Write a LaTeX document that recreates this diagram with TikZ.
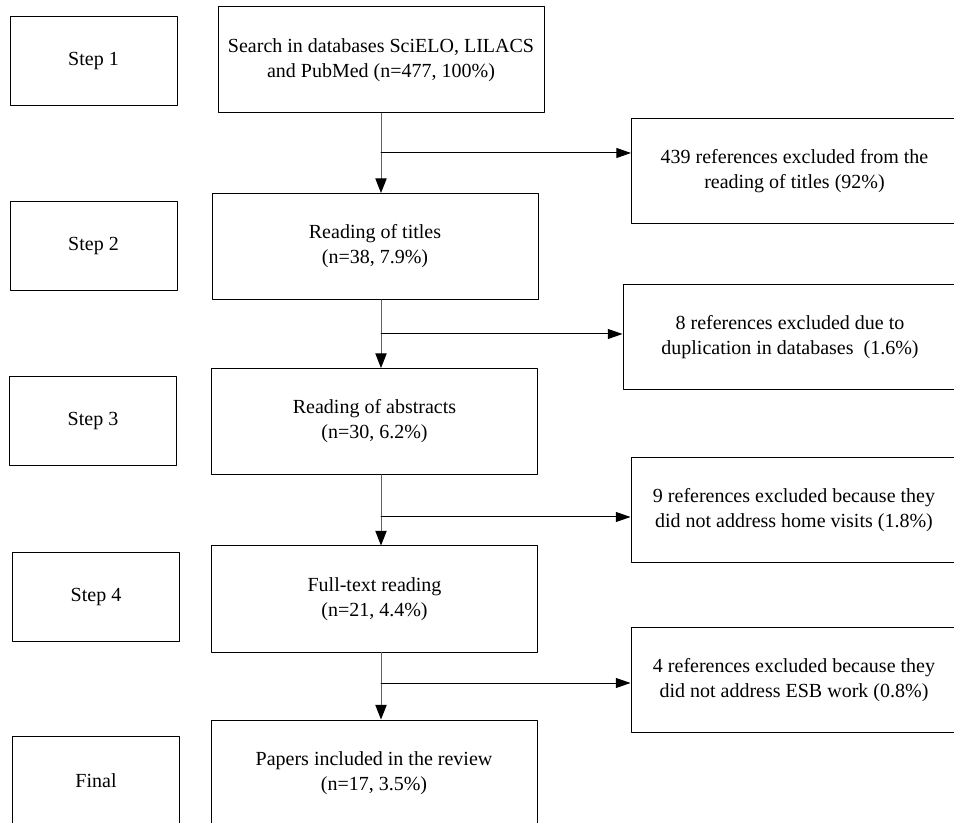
\documentclass[tikz,border=0pt]{standalone}
\usepackage{fontspec}
\setmainfont{Liberation Serif}
\usetikzlibrary{arrows.meta}
\definecolor{qqqqqq}{rgb}{0.,0.,0.}
\definecolor{wqwqwq}{rgb}{0.38,0.38,0.38}
\begin{document}
\begin{tikzpicture}[line cap=round,line join=round,x=0.75pt,y=-0.75pt,
    every node/.style={font=\fontsize{15}{18.75}\selectfont},
    stepbox/.style={draw=qqqqqq,line width=0.75pt,inner sep=0pt,minimum width=125.25pt,minimum height=66.75pt},
    mainbox/.style={draw=qqqqqq,line width=0.75pt,inner sep=0pt,align=center,minimum width=244.5pt,minimum height=79.5pt},
    exclbox/.style={draw=qqqqqq,line width=0.75pt,inner sep=0pt,align=center,minimum width=244.5pt,minimum height=78.75pt},
    flow/.style={color=wqwqwq,line width=0.75pt,-{Triangle[length=11pt,width=8.5pt,color=qqqqqq]}},
    branch/.style={color=qqqqqq,line width=0.75pt,-{Triangle[length=11pt,width=7.5pt]}}]
    \useasboundingbox (0,0) rectangle (954,823);
    \node[stepbox] (step1) at (93.5,61.5) {Step 1};
    \node[stepbox] (step2) at (93.5,246.5) {Step 2};
    \node[stepbox] (step3) at (93,421.5) {Step 3};
    \node[stepbox] (step4) at (96,597) {Step 4};
    \node[stepbox] (final) at (96,780.5) {Final};
    \node[mainbox] (search) at (381,60) {Search in databases SciELO, LILACS\\and PubMed (n=477, 100\%)};
    \node[mainbox] (titles) at (375,246.5) {Reading of titles\\(n=38, 7.9\%)};
    \node[mainbox] (abstracts) at (374.5,421.5) {Reading of abstracts\\(n=30, 6.2\%)};
    \node[mainbox] (fulltext) at (374.5,599) {Full-text reading\\(n=21, 4.4\%)};
    \node[mainbox] (papers) at (374,773) {Papers included in the review\\(n=17, 3.5\%)};
    \node[exclbox] (excl1) at (794.5,171.5) {439 references excluded from the\\reading of titles (92\%)};
    \node[exclbox,minimum width=250.5pt] (excl2) at (790,337.5) {8 references excluded due to\\duplication in databases~ (1.6\%)};
    \node[exclbox] (excl3) at (794,510.5) {9 references excluded because they\\did not address home visits (1.8\%)};
    \node[exclbox] (excl4) at (794,680) {4 references excluded because they\\did not address ESB work (0.8\%)};
    \coordinate (b1) at (381,153);
    \coordinate (b2) at (381,334);
    \coordinate (b3) at (381,517);
    \coordinate (b4) at (381,683);
    \draw [flow] (search.south) -- (search.south |- titles.north);
    \draw [flow] (search.south |- titles.south) -- (search.south |- abstracts.north);
    \draw [flow] (search.south |- abstracts.south) -- (search.south |- fulltext.north);
    \draw [flow] (search.south |- fulltext.south) -- (search.south |- papers.north);
    \draw [branch] (b1) -- (b1 -| excl1.west);
    \draw [branch] (b2) -- (b2 -| excl2.west);
    \draw [branch] (b3) -- (b3 -| excl3.west);
    \draw [branch] (b4) -- (b4 -| excl4.west);
\end{tikzpicture}
\end{document}
